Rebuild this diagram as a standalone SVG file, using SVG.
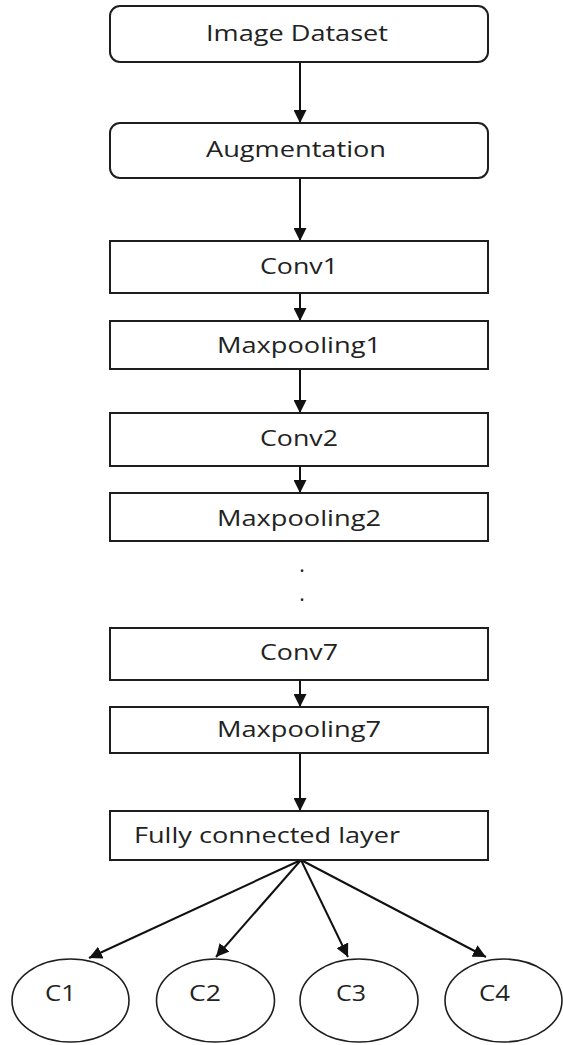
<svg xmlns="http://www.w3.org/2000/svg" width="563" height="1045" viewBox="0 0 563 1045">
  <style>
    .box { fill: #ffffff; stroke: #1e1e1e; stroke-width: 2; }
    .oval { fill: #ffffff; stroke: #1e1e1e; stroke-width: 1.6; }
    .lbl { font-family: "Open Sans", "Liberation Sans", sans-serif; font-size: 21px; fill: #222222; }
    .edge { fill: none; stroke: #111111; stroke-width: 2; }
  </style>
  <defs>
    <marker id="arrow" viewBox="0 0 13 13" refX="13" refY="6.5" markerWidth="13" markerHeight="13" markerUnits="userSpaceOnUse" orient="auto">
      <path d="M0,0 L13,6.5 L0,13 Z" fill="#111111"/>
    </marker>
  </defs>

  <rect width="563" height="1045" fill="#ffffff"/>

  <!-- connectors -->
  <g id="connectors">
    <line class="edge" x1="300" y1="62" x2="300" y2="123" marker-end="url(#arrow)"/>
    <line class="edge" x1="300" y1="178" x2="300" y2="241" marker-end="url(#arrow)"/>
    <line class="edge" x1="300" y1="293" x2="300" y2="321" marker-end="url(#arrow)"/>
    <line class="edge" x1="300" y1="369" x2="300" y2="413" marker-end="url(#arrow)"/>
    <line class="edge" x1="300" y1="466" x2="300" y2="493" marker-end="url(#arrow)"/>
    <line class="edge" x1="300" y1="680" x2="300" y2="707" marker-end="url(#arrow)"/>
    <line class="edge" x1="300" y1="753" x2="300" y2="811" marker-end="url(#arrow)"/>
    <line class="edge" x1="301" y1="860" x2="89" y2="958" marker-end="url(#arrow)"/>
    <line class="edge" x1="301" y1="860" x2="216" y2="957" marker-end="url(#arrow)"/>
    <line class="edge" x1="301" y1="860" x2="348" y2="957" marker-end="url(#arrow)"/>
    <line class="edge" x1="301" y1="860" x2="486" y2="957" marker-end="url(#arrow)"/>
  </g>

  <!-- nodes -->
  <g id="image-dataset">
    <rect class="box" x="110" y="6" width="378" height="56" rx="10"/>
    <text class="lbl" x="206" y="41" textLength="182" lengthAdjust="spacingAndGlyphs">Image Dataset</text>
  </g>
  <g id="augmentation">
    <rect class="box" x="110" y="123" width="378" height="55" rx="10"/>
    <text class="lbl" x="206" y="157" textLength="180" lengthAdjust="spacingAndGlyphs">Augmentation</text>
  </g>
  <g id="conv1">
    <rect class="box" x="110" y="241" width="378" height="52"/>
    <text class="lbl" x="260" y="274" textLength="78" lengthAdjust="spacingAndGlyphs">Conv1</text>
  </g>
  <g id="maxpooling1">
    <rect class="box" x="110" y="321" width="378" height="48"/>
    <text class="lbl" x="217" y="353" textLength="164" lengthAdjust="spacingAndGlyphs">Maxpooling1</text>
  </g>
  <g id="conv2">
    <rect class="box" x="110" y="413" width="378" height="53"/>
    <text class="lbl" x="260" y="446" textLength="78" lengthAdjust="spacingAndGlyphs">Conv2</text>
  </g>
  <g id="maxpooling2">
    <rect class="box" x="110" y="493" width="378" height="48"/>
    <text class="lbl" x="217" y="526" textLength="164" lengthAdjust="spacingAndGlyphs">Maxpooling2</text>
  </g>
  <g id="ellipsis">
    <text class="lbl" x="302" y="572" text-anchor="middle">.</text>
    <text class="lbl" x="302" y="601" text-anchor="middle">.</text>
  </g>
  <g id="conv7">
    <rect class="box" x="110" y="628" width="378" height="52"/>
    <text class="lbl" x="260" y="660" textLength="78" lengthAdjust="spacingAndGlyphs">Conv7</text>
  </g>
  <g id="maxpooling7">
    <rect class="box" x="110" y="707" width="378" height="46"/>
    <text class="lbl" x="217" y="737" textLength="164" lengthAdjust="spacingAndGlyphs">Maxpooling7</text>
  </g>
  <g id="fully-connected">
    <rect class="box" x="110" y="811" width="378" height="49"/>
    <text class="lbl" x="134" y="843" textLength="266" lengthAdjust="spacingAndGlyphs">Fully connected layer</text>
  </g>
  <g id="c1">
    <ellipse class="oval" cx="70.5" cy="1000.5" rx="58.5" ry="41.5"/>
    <text class="lbl" x="45" y="1001" textLength="31" lengthAdjust="spacingAndGlyphs">C1</text>
  </g>
  <g id="c2">
    <ellipse class="oval" cx="215.5" cy="1000.5" rx="59" ry="41.5"/>
    <text class="lbl" x="189" y="1001" textLength="32" lengthAdjust="spacingAndGlyphs">C2</text>
  </g>
  <g id="c3">
    <ellipse class="oval" cx="359" cy="1000.5" rx="59" ry="41.5"/>
    <text class="lbl" x="336" y="1001" textLength="30" lengthAdjust="spacingAndGlyphs">C3</text>
  </g>
  <g id="c4">
    <ellipse class="oval" cx="503.5" cy="1000.5" rx="58.5" ry="41.5"/>
    <text class="lbl" x="479" y="1001" textLength="31" lengthAdjust="spacingAndGlyphs">C4</text>
  </g>
</svg>
